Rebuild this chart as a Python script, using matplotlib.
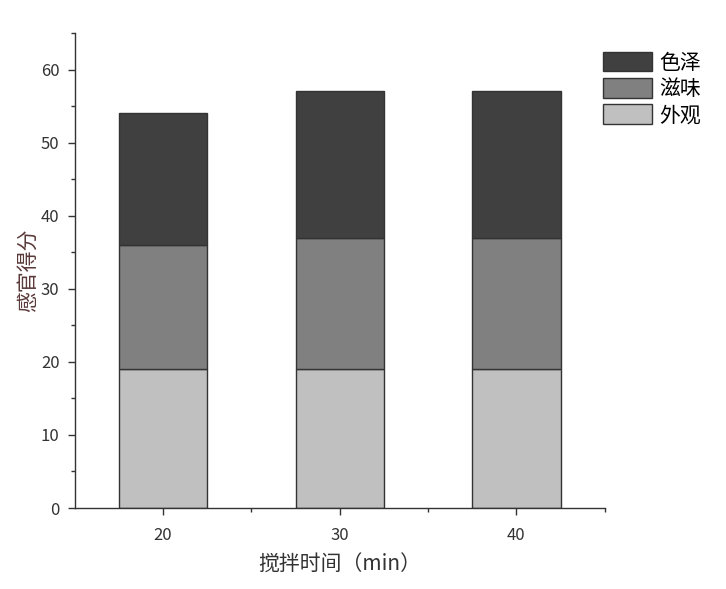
import matplotlib
matplotlib.use("Agg")
import matplotlib.pyplot as plt
from matplotlib.ticker import MultipleLocator
import numpy as np

plt.rcParams['font.family'] = ['Noto Sans CJK SC', 'DejaVu Sans']

categories = ['20', '30', '40']
appearance = [19, 19, 19]   # 外观
taste = [17, 18, 18]        # 滋味
color = [18, 20, 20]        # 色泽
series_labels = ['色泽', '滋味', '外观']

fig = plt.figure(figsize=(7.26, 5.89), dpi=100)
ax = fig.add_axes([0.103, 0.1375, 0.730, 0.8065])

x = np.arange(len(categories))
w = 0.5
b1 = ax.bar(x, appearance, w, color='#c0c0c0', edgecolor='#333333', linewidth=1, label='外观')
b2 = ax.bar(x, taste, w, bottom=appearance, color='#808080', edgecolor='#333333', linewidth=1, label='滋味')
bottom3 = [a + t for a, t in zip(appearance, taste)]
b3 = ax.bar(x, color, w, bottom=bottom3, color='#404040', edgecolor='#333333', linewidth=1, label='色泽')

ax.set_xlim(-0.5, 2.5)
ax.set_ylim(0, 65)
ax.set_xticks(x)
ax.set_xticklabels(categories)
ax.set_xticks([0.5, 1.5, 2.5], minor=True)
ax.yaxis.set_major_locator(MultipleLocator(10))
ax.yaxis.set_minor_locator(MultipleLocator(5))
ax.set_yticks(range(0, 61, 10))

for s in ['top', 'right']:
    ax.spines[s].set_visible(False)
for s in ['left', 'bottom']:
    ax.spines[s].set_color('#333333')
    ax.spines[s].set_linewidth(1)

ax.tick_params(which='major', direction='out', length=5, width=1, labelsize=12, colors='#333333', pad=6)
ax.tick_params(which='minor', direction='out', length=3, width=1, colors='#333333')
ax.tick_params(axis='x', which='major', pad=9)

ax.set_ylabel('感官得分', fontsize=15, color='#5a3838')
ax.yaxis.set_label_coords(-0.068, 0.5)
ax.set_xlabel('搅拌时间（min）', fontsize=15, color='#333333', labelpad=7)

handles = [b3, b2, b1]
leg = fig.legend(handles, series_labels, loc='upper left', bbox_to_anchor=(0.830, 0.912),
                 frameon=False, fontsize=15, handlelength=2.35, handleheight=1.05,
                 labelspacing=0.2, handletextpad=0.35, borderpad=0, borderaxespad=0)

fig.savefig('out.png', dpi=100)
